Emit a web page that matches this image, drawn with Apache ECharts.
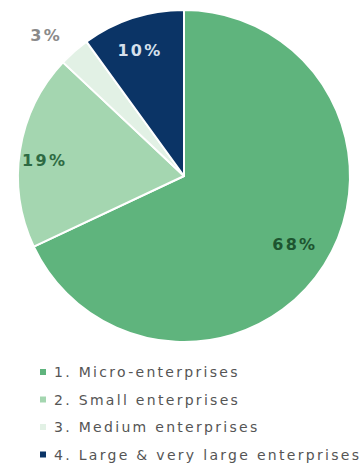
<!DOCTYPE html>
<html>
<head>
<meta charset="utf-8">
<script src="https://cdn.jsdelivr.net/npm/echarts@6/dist/echarts.min.js"></script>
<style>
  html, body { margin: 0; padding: 0; background: #fff; }
  #chart { width: 362px; height: 466px; }
  /* wide, airy lettering for all chart text */
  #chart text { letter-spacing: 2.3px; }
</style>
</head>
<body>
<div id="chart"></div>
<script>
// Enterprise size classes and their share (%)
const categories = ['1. Micro-enterprises', '2. Small enterprises', '3. Medium enterprises', '4. Large & very large enterprises'];
const shares = [68, 19, 3, 10];
const colors = ['#5fb47d', '#a4d6b0', '#e2f1e5', '#0b3466'];
const labelColors = ['#1d5530', '#2e6a43', '#8a8a8a', '#d6e0ec'];

const center = [184, 176];
const fontFamily = 'DejaVu Sans';

// small nudges for the percentage labels
const labelNudge = [[-4, -4], [-5, 6], [10, 4], [-2, 4]];

const chart = echarts.init(document.getElementById('chart'), null, { renderer: 'svg' });

const sliceData = categories.map((name, i) => ({
  name,
  value: shares[i],
  itemStyle: { color: colors[i] }
}));

// Label ring: a transparent pie whose inside labels sit near the outer edge
const labelData = categories.map((name, i) => ({
  name,
  value: shares[i],
  label: i === 2
    ? { position: 'outside', color: labelColors[i] }
    : { position: 'inside', color: labelColors[i] },
  labelLine: { show: false, length: 26, length2: 0 }
}));

chart.setOption({
  animation: false,
  legend: {
    orient: 'vertical',
    left: 38,
    top: 365,
    padding: 0,
    icon: 'rect',
    itemWidth: 8,
    itemHeight: 8,
    itemGap: 13.5,
    data: categories,
    textStyle: { color: '#555', fontSize: 14, fontFamily, padding: [0, 0, 0, 2] }
  },
  series: [
    {
      type: 'pie',
      center,
      radius: [0, 166],
      startAngle: 90,
      clockwise: true,
      silent: true,
      label: { show: false },
      labelLine: { show: false },
      itemStyle: { borderColor: '#fff', borderWidth: 2 },
      data: sliceData
    },
    {
      type: 'pie',
      center,
      radius: [100, 166],
      startAngle: 90,
      clockwise: true,
      silent: true,
      avoidLabelOverlap: false,
      legendHoverLink: false,
      itemStyle: { color: 'rgba(0,0,0,0)' },
      label: {
        show: true,
        formatter: '{c}%',
        fontSize: 16,
        fontWeight: 'bold',
        fontFamily
      },
      labelLayout: (p) => ({ dx: labelNudge[p.dataIndex][0], dy: labelNudge[p.dataIndex][1] }),
      data: labelData
    }
  ]
});
</script>
</body>
</html>
